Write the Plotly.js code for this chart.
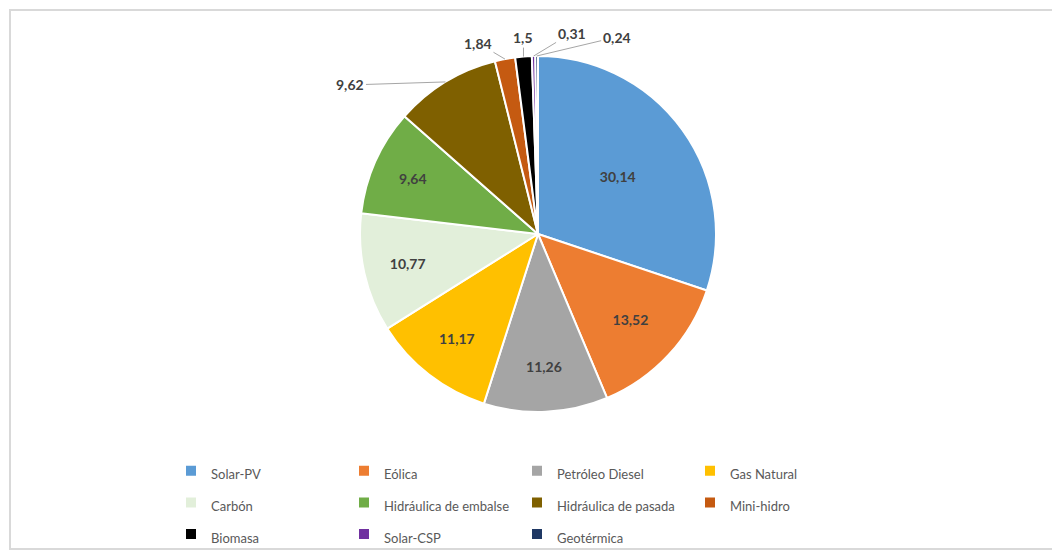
<!DOCTYPE html>
<html>
<head>
<meta charset="utf-8">
<script src="https://cdn.plot.ly/plotly-3.0.1.min.js"></script>
<style>
  html, body { margin: 0; padding: 0; background: #fff; }
  #wrap { position: relative; width: 1052px; height: 554px; overflow: hidden; }
  #chart { width: 1052px; height: 554px; }
  #frame { position: absolute; left: 9px; top: 9px; width: 1060px; height: 541px;
           border: 2px solid #d9d9d9; box-sizing: border-box; pointer-events: none; }
</style>
</head>
<body>
<div id="wrap">
  <div id="chart"></div>
  <div id="frame"></div>
</div>
<script>
// ---- data ----
const categories = ["Solar-PV", "Eólica", "Petróleo Diesel", "Gas Natural", "Carbón",
  "Hidráulica de embalse", "Hidráulica de pasada", "Mini-hidro", "Biomasa", "Solar-CSP", "Geotérmica"];
const values = [30.14, 13.52, 11.26, 11.17, 10.77, 9.64, 9.62, 1.84, 1.5, 0.31, 0.24];

// ---- style ----
const colors = ["#5B9BD5", "#ED7D31", "#A5A5A5", "#FFC000", "#E2EFDA",
  "#70AD47", "#7F6000", "#C55A11", "#000000", "#7030A0", "#1F3864"];
// labels drawn outside with a leader line: slice index -> text offset (px) from slice edge
const outsideLabelOffsets = { 6: [-95, 3], 7: [-27, -16], 8: [0, -19], 9: [38, -23], 10: [80, -19] };

const W = 1052, H = 554;
const M = { l: 171, r: 171, t: 56, b: 10, autoexpand: false };
const plotW = W - M.l - M.r, plotH = H - M.t - M.b;
// pie box in pixels
const pieBox = { x0: 360, x1: 716, y0: 56, y1: 412 };
const pieDomain = {
  x: [(pieBox.x0 - M.l) / plotW, (pieBox.x1 - M.l) / plotW],
  y: [(H - M.b - pieBox.y1) / plotH, (H - M.b - pieBox.y0) / plotH]
};

const FONT = "Lato, 'Open Sans', sans-serif";
const fmt = v => String(v).replace(".", ",");

const textPositions = values.map((v, i) => (i in outsideLabelOffsets) ? "none" : "inside");

const trace = {
  type: "pie",
  labels: categories.map(c => '<span style="font-size:13px">' + c + '</span>'),
  values: values,
  sort: false,
  direction: "clockwise",
  rotation: 0,
  marker: { colors: colors, line: { color: "#ffffff", width: 2 } },
  textinfo: "value",
  texttemplate: "%{value}",
  textposition: textPositions,
  insidetextorientation: "horizontal",
  textfont: { family: FONT, size: 14, color: "#404040", weight: "bold" },
  automargin: false,
  domain: pieDomain,
  hoverinfo: "label+value"
};

// leader-line labels, anchored at each slice's outer edge (from the cumulative values)
const total = values.reduce((a, b) => a + b, 0);
const cx = (pieBox.x0 + pieBox.x1) / 2, cy = (pieBox.y0 + pieBox.y1) / 2;
const r = (pieBox.x1 - pieBox.x0) / 2;
let cum = 0;
const annotations = [];
values.forEach((v, i) => {
  const mid = (cum + v / 2) / total * 2 * Math.PI;
  cum += v;
  if (!(i in outsideLabelOffsets)) return;
  const px = cx + r * Math.sin(mid), py = cy - r * Math.cos(mid);
  const [ax, ay] = outsideLabelOffsets[i];
  annotations.push({
    xref: "paper", yref: "paper",
    x: (px - M.l) / plotW, y: (H - M.b - py) / plotH,
    ax: ax, ay: ay,
    text: fmt(v),
    showarrow: true, arrowhead: 0, arrowwidth: 1, arrowcolor: "#a6a6a6", standoff: 0,
    font: { family: FONT, size: 14, color: "#404040", weight: "bold" }
  });
});

const layout = {
  width: W,
  height: H,
  margin: M,
  separators: ", ",
  paper_bgcolor: "#ffffff",
  showlegend: true,
  annotations: annotations,
  legend: {
    orientation: "h",
    x: 0, xanchor: "left",
    y: (H - M.b - 450) / plotH, yanchor: "top",
    entrywidth: 128,
    entrywidthmode: "pixels",
    font: { family: FONT, size: 22, color: "#595959" },
    traceorder: "normal"
  }
};

Plotly.newPlot("chart", [trace], layout, { displayModeBar: false, staticPlot: true });
</script>
</body>
</html>
